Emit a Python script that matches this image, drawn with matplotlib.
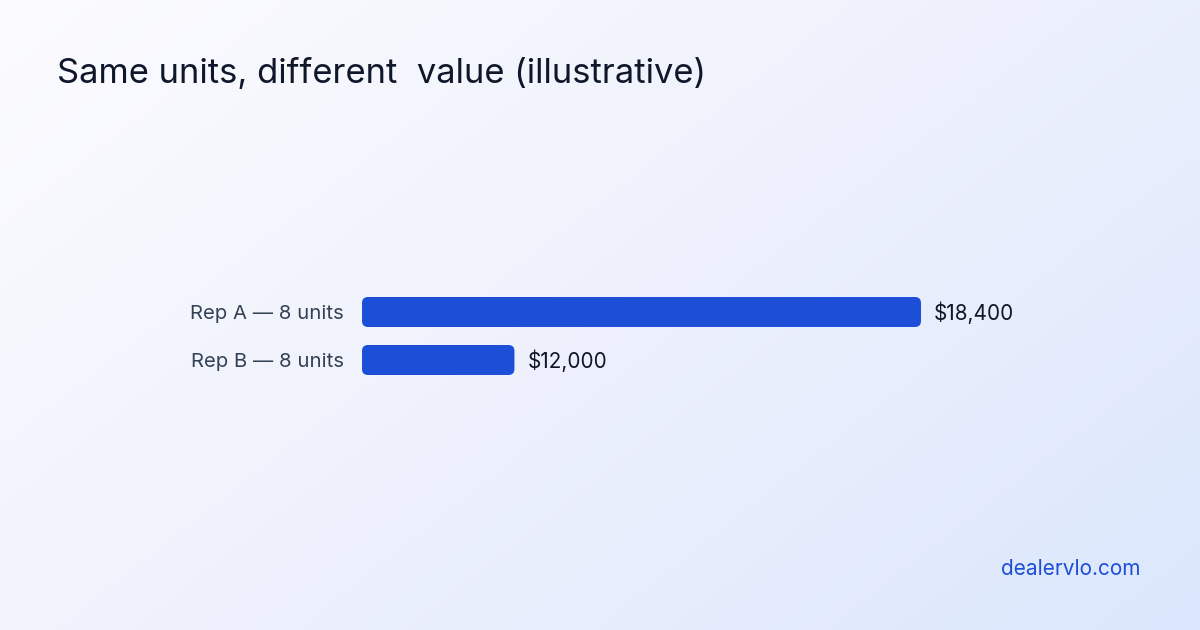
import numpy as np
import matplotlib
matplotlib.use("Agg")
import matplotlib.pyplot as plt
from matplotlib.colors import LinearSegmentedColormap
from matplotlib.patches import FancyBboxPatch

# Data
categories = ["Rep A — 8 units", "Rep B — 8 units"]
values = [18400, 12000]
value_labels = ["$18,400", "$12,000"]
title = "Same units, different  value (illustrative)"
footer = "dealervlo.com"

W, H, DPI = 1200, 630, 100
fig = plt.figure(figsize=(W / DPI, H / DPI), dpi=DPI)

# background gradient
bg = fig.add_axes([0, 0, 1, 1], zorder=0)
bg.axis("off")
yy, xx = np.mgrid[0:1:200j, 0:1:380j]
g = (xx * 0.6 + yy * 0.4)
cmap = LinearSegmentedColormap.from_list("bg", ["#fcfcff", "#eef1fc", "#dbe7fc"])
bg.imshow(g, cmap=cmap, aspect="auto", extent=[0, 1, 1, 0], vmin=0, vmax=1)
bg.set_xlim(0, 1); bg.set_ylim(1, 0)

FONT = ["Inter", "DejaVu Sans"]

fig.text(57 / W, 1 - 83 / H, title, fontsize=24.85, color="#0f172a",
         family=FONT, ha="left", va="baseline")
fig.text(1141 / W, 1 - 575 / H, footer, fontsize=15, color="#1d4ed8",
         family=FONT, ha="right", va="baseline")

# bar axes
x0, x1 = 362, 921
y0, y1 = 297 - 9, 375 + 9
ax = fig.add_axes([x0 / W, 1 - y1 / H, (x1 - x0) / W, (y1 - y0) / H], zorder=1)
ax.patch.set_alpha(0)
for s in ax.spines.values():
    s.set_visible(False)
ax.set_xticks([]); ax.set_yticks([])

xmin = 9600
ax.set_xlim(xmin, max(values))
ypos = np.arange(len(categories))
bar_h = 30 / 48
pad = (bar_h / 2) + 9 / 48
ax.set_ylim(ypos[-1] + pad, ypos[0] - pad)

px_x = (max(values) - xmin) / (x1 - x0)
px_y = (ypos[-1] - ypos[0] + 2 * pad) / (y1 - y0)
r = 6 * px_x
aspect = px_y / px_x
pt = 72 / DPI

for i, (yv, v) in enumerate(zip(ypos, values)):
    p = FancyBboxPatch((xmin, yv - bar_h / 2), v - xmin, bar_h,
                       boxstyle=f"round,pad=0,rounding_size={r}",
                       mutation_aspect=aspect, facecolor="#1d4ed8",
                       edgecolor="none", clip_on=False)
    ax.add_patch(p)
    ax.annotate(categories[i], xy=(xmin, yv), xytext=(-18 * pt, -2 * pt),
                textcoords="offset points", ha="right", va="center",
                fontsize=14.6, color="#334155", family=FONT)
    ax.annotate(value_labels[i], xy=(v, yv), xytext=(13 * pt, -0.5 * pt),
                textcoords="offset points", ha="left", va="center",
                fontsize=14.9, color="#0f172a", family=FONT, annotation_clip=False)

fig.savefig("out.png", dpi=DPI)
